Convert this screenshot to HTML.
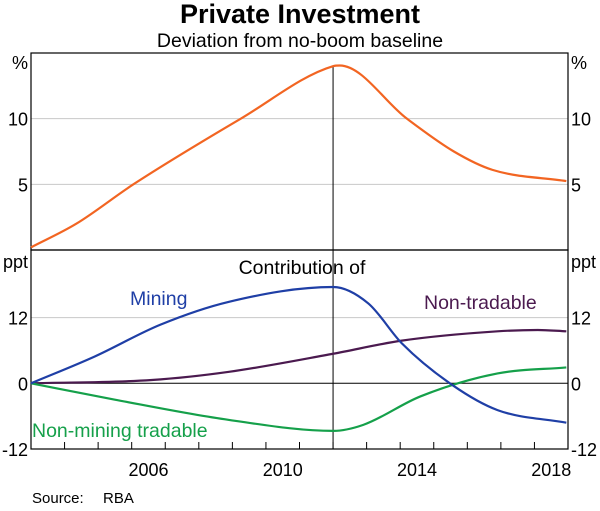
<!DOCTYPE html>
<html><head><meta charset="utf-8"><style>
body{margin:0;background:#fff;}
svg text{font-family:"Liberation Sans",Arial,sans-serif;}
</style></head><body>
<svg id="c" width="600" height="506" xmlns="http://www.w3.org/2000/svg">
<text x="300" y="23" text-anchor="middle" font-size="27" font-weight="bold">Private Investment</text>
<text x="300" y="47" text-anchor="middle" font-size="19.5">Deviation from no-boom baseline</text>
<g id="g"></g>
<text x="32" y="503" font-size="15">Source:</text>
<text x="103" y="503" font-size="15">RBA</text>
</svg>
<script>
const topYears=[2003,2004.35,2006.05,2009.25,2012.0,2012.2,2014.2,2015.6,2016.75,2018.95];
const topValues=[0.2,2.0,5.0,10.0,14.0,14.05,10.0,7.5,6.1,5.25];
const miningYears=[2003,2004.9,2006.85,2008.9,2012.0,2013.05,2014.05,2015.55,2016.9,2018.95];
const miningValues=[0,4.9,10.7,14.9,17.6,14.6,7.3,-0.3,-4.9,-7.2];
const nonTradYears=[2003,2006.6,2008.9,2012.0,2014.05,2016.9,2018.1,2018.95];
const nonTradValues=[0,0.6,2.1,5.4,7.8,9.5,9.75,9.5];
const nonMinYears=[2003,2005.5,2008.9,2012.0,2012.9,2014.6,2016.9,2018.95];
const nonMinValues=[0,-3.0,-6.7,-8.7,-7.6,-2.4,1.8,2.9];
const topTicks=[5,10];
const botTicks=[-12,0,12];
const xLabels=[2006,2010,2014,2018];

const L=31,R=568,T=53,M=250,B=449;
const x=y=>L+(y-2003)/(2019-2003)*(R-L);
const yTop=v=>M-v/15*(M-T);
const yBot=v=>383.3-v*5.47;
const g=document.getElementById('g');
const NS='http://www.w3.org/2000/svg';
function el(t,a,parent){const e=document.createElementNS(NS,t);for(const k in a)e.setAttribute(k,a[k]);(parent||g).appendChild(e);return e;}
function path(xs,vs,fy){
  // monotone cubic interpolation in screen space
  const px=xs.map(x),py=vs.map(fy),n=px.length;
  const d=[],m=new Array(n);
  for(let i=0;i<n-1;i++)d.push((py[i+1]-py[i])/(px[i+1]-px[i]));
  m[0]=d[0];m[n-1]=d[n-2];
  for(let i=1;i<n-1;i++){m[i]=(d[i-1]*d[i]<=0)?0:(d[i-1]+d[i])/2;}
  for(let i=0;i<n-1;i++){
    if(d[i]===0){m[i]=0;m[i+1]=0;continue;}
    const a=m[i]/d[i],b=m[i+1]/d[i],s=a*a+b*b;
    if(s>9){const t=3/Math.sqrt(s);m[i]=t*a*d[i];m[i+1]=t*b*d[i];}
  }
  let s='M'+px[0]+','+py[0];
  for(let i=0;i<n-1;i++){
    const h=(px[i+1]-px[i])/3;
    s+=' C'+(px[i]+h)+','+(py[i]+m[i]*h)+' '+(px[i+1]-h)+','+(py[i+1]-m[i+1]*h)+' '+px[i+1]+','+py[i+1];
  }
  return s;
}
topTicks.forEach(v=>{
  const l=el('line',{x1:L,x2:R,y1:yTop(v),y2:yTop(v),stroke:'#c8c8c8','stroke-width':1});
  
  
  [[L-3,'end'],[R+3,'start']].forEach(([tx,a])=>{
    const t=el('text',{x:tx,y:yTop(v)+7,'text-anchor':a,'font-size':18});t.textContent=v;
    
    
  });
});
botTicks.forEach(v=>{
  const l=el('line',{x1:L,x2:R,y1:yBot(v),y2:yBot(v),stroke:v===0?'#000':'#c8c8c8','stroke-width':1});
  
  
  [[L-3,'end'],[R+3,'start']].forEach(([tx,a])=>{
    const t=el('text',{x:tx,y:Math.min(yBot(v)+7,456),'text-anchor':a,'font-size':18});t.textContent=v;
    
    
  });
});
[['%',T+16,'top'],['ppt',M+18,'bottom']].forEach(([s,yy,n])=>{
  [[L-3,'end'],[R+3,'start']].forEach(([tx,a])=>{
    const t=el('text',{x:tx,y:yy,'text-anchor':a,'font-size':18});t.textContent=s;
    
    
  });
});
for(let yr=2004;yr<=2018;yr++){
  const t=el('line',{x1:x(yr),x2:x(yr),y1:B,y2:B-7,stroke:'#000','stroke-width':1});
  
  
}
xLabels.forEach(yr=>{
  const t=el('text',{x:x(yr+0.5),y:476,'text-anchor':'middle','font-size':18});t.textContent=yr;
  
  
});
const vl=el('line',{x1:x(2012),x2:x(2012),y1:yTop(14),y2:B,stroke:'#000','stroke-width':1});


[[T,M],[M,B]].forEach(([a,b],i)=>{
  const r=el('rect',{x:L,y:a,width:R-L,height:b-a,fill:'none',stroke:'#000','stroke-width':1.2});
  
  
});
const ct=el('text',{x:302,y:274,'text-anchor':'middle','font-size':19.5});ct.textContent='Contribution of';


const s1=el('path',{d:path(topYears,topValues,yTop),fill:'none',stroke:'#f26522','stroke-width':2.2});


const s2=el('path',{d:path(nonTradYears,nonTradValues,yBot),fill:'none',stroke:'#4b1a4f','stroke-width':2.2});


const s3=el('path',{d:path(nonMinYears,nonMinValues,yBot),fill:'none',stroke:'#15a04a','stroke-width':2.2});


const s4=el('path',{d:path(miningYears,miningValues,yBot),fill:'none',stroke:'#1f3fa6','stroke-width':2.2});


[['Mining',130,305,'#1f3fa6','mining-label'],['Non-tradable',424,309,'#4b1a4f','non-tradable-label'],['Non-mining tradable',32,437,'#15a04a','non-mining-tradable-label']].forEach(([s,tx,ty,c,n])=>{
  const t=el('text',{x:tx,y:ty,'font-size':19.5,fill:c});t.textContent=s;
  
  
});
</script>
</body></html>
